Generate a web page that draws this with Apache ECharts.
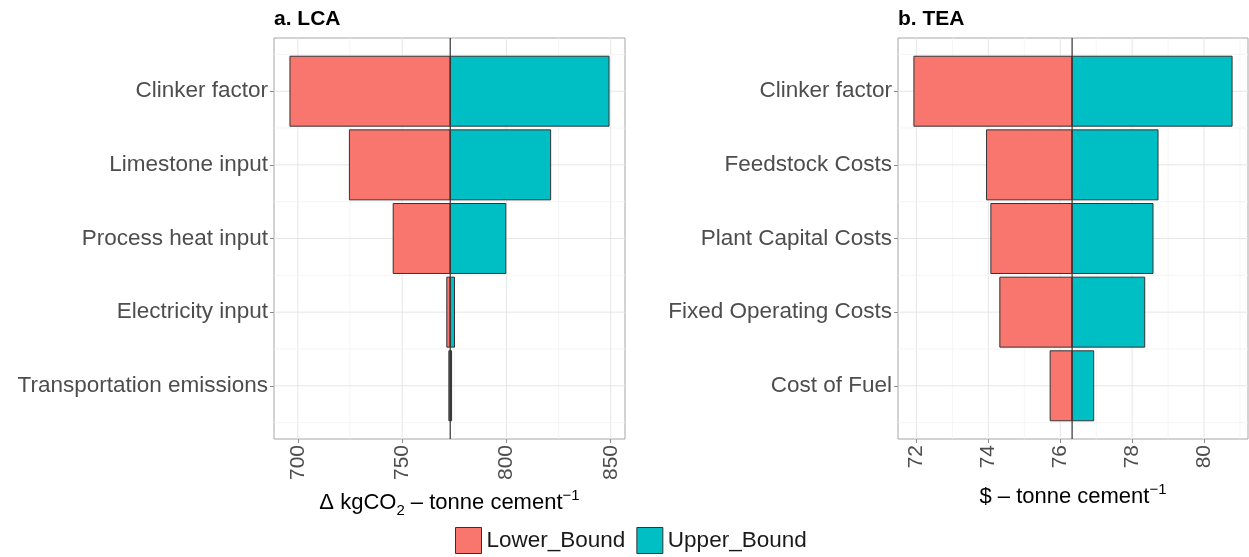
<!DOCTYPE html>
<html>
<head>
<meta charset="utf-8">
<script src="https://cdn.jsdelivr.net/npm/echarts@6/dist/echarts.min.js"></script>
<style>
  html, body { margin: 0; padding: 0; background: #ffffff; }
  #chart { width: 1249px; height: 557px; }
</style>
</head>
<body>
<div id="chart"></div>
<script>
// ---- Panel a: life-cycle assessment (kgCO2 per tonne cement) ----
const lcaCategories = ['Clinker factor', 'Limestone input', 'Process heat input', 'Electricity input', 'Transportation emissions'];
const lcaBaseline = 773.05;
const lcaLower = [696.2, 724.7, 745.7, 771.4, 772.4];
const lcaUpper = [849.2, 821.2, 799.7, 775.1, 773.7];
const lcaTicks = [700, 750, 800, 850];
const lcaMinorTicks = [725, 775, 825];

// ---- Panel b: techno-economic assessment ($ per tonne cement) ----
const teaCategories = ['Clinker factor', 'Feedstock Costs', 'Plant Capital Costs', 'Fixed Operating Costs', 'Cost of Fuel'];
const teaBaseline = 76.33;
const teaLower = [71.93, 73.95, 74.07, 74.32, 75.72];
const teaUpper = [80.78, 78.72, 78.58, 78.35, 76.93];
const teaTicks = [72, 74, 76, 78, 80];
const teaMinorTicks = [73, 75, 77, 79, 81];

// Row positions (1 = top row) and the half-step guide lines between them
const rowTicks = [1, 2, 3, 4, 5];
const rowMinorTicks = [0.5, 1.5, 2.5, 3.5, 4.5, 5.5];

const LOWER_COLOR = '#F8766D';
const UPPER_COLOR = '#00BFC4';
const BAR_WIDTH = 0.95;
const FONT = '"Liberation Sans", Arial, Helvetica, sans-serif';

// 5% padding on each side of the data range
function paddedRange(lo, hi) {
  const pad = (hi - lo) * 0.05;
  return [lo - pad, hi + pad];
}
const lcaRange = paddedRange(Math.min(...lcaLower), Math.max(...lcaUpper));
const teaRange = paddedRange(Math.min(...teaLower), Math.max(...teaUpper));
const rowRange = paddedRange(1 - BAR_WIDTH / 2, rowTicks.length + BAR_WIDTH / 2);

// One horizontal bar per row, spanning [start, end] on the value axis
function barSeries(name, color, starts, ends, gi) {
  return {
    type: 'custom',
    name: name,
    xAxisIndex: gi,
    yAxisIndex: gi,
    z: 3,
    itemStyle: { color: color, borderColor: '#333333', borderWidth: 1 },
    encode: { x: [0, 1], y: 2 },
    data: starts.map((s, i) => [s, ends[i], i + 1]),
    renderItem: function (params, api) {
      const a = api.coord([api.value(0), api.value(2)]);
      const b = api.coord([api.value(1), api.value(2)]);
      const h = Math.abs(api.size([0, BAR_WIDTH])[1]);
      return {
        type: 'rect',
        shape: { x: Math.min(a[0], b[0]), y: a[1] - h / 2, width: Math.abs(b[0] - a[0]), height: h },
        style: { fill: color, stroke: '#333333', lineWidth: 1 }
      };
    }
  };
}

// Background guide lines: kind 0 = major vertical, 1 = minor vertical,
// 2 = major horizontal, 3 = minor horizontal
function guideSeries(gi, xMajor, xMinor) {
  const data = []
    .concat(xMajor.map(v => [v, 0]))
    .concat(xMinor.map(v => [v, 1]))
    .concat(rowTicks.map(v => [v, 2]))
    .concat(rowMinorTicks.map(v => [v, 3]));
  return {
    type: 'custom',
    name: 'guides' + gi,
    xAxisIndex: gi,
    yAxisIndex: gi,
    z: 1,
    silent: true,
    encode: { x: -1, y: -1 },
    data: data,
    renderItem: function (params, api) {
      const cs = params.coordSys;
      const v = api.value(0);
      const kind = api.value(1);
      const major = kind === 0 || kind === 2;
      const style = { stroke: major ? '#E6E6E6' : '#F2F2F2', lineWidth: major ? 1 : 0.8 };
      if (kind < 2) {
        const x = api.coord([v, 1])[0];
        return { type: 'line', shape: { x1: x, y1: cs.y, x2: x, y2: cs.y + cs.height }, style: style };
      }
      const xRef = gi === 0 ? lcaRange[0] : teaRange[0];
      const y = api.coord([xRef, v])[1];
      return { type: 'line', shape: { x1: cs.x, y1: y, x2: cs.x + cs.width, y2: y }, style: style };
    }
  };
}

// Vertical reference line at the baseline value
function baselineSeries(gi, value) {
  return {
    type: 'custom',
    name: 'baseline' + gi,
    xAxisIndex: gi,
    yAxisIndex: gi,
    z: 6,
    silent: true,
    encode: { x: 0, y: -1 },
    data: [[value]],
    renderItem: function (params, api) {
      const cs = params.coordSys;
      const x = api.coord([api.value(0), 1])[0];
      return { type: 'line', shape: { x1: x, y1: cs.y, x2: x, y2: cs.y + cs.height }, style: { stroke: '#333333', lineWidth: 1.2 } };
    }
  };
}

const nameRich = {
  t: { fontSize: 22, fontFamily: FONT, color: '#000000', lineHeight: 30, verticalAlign: 'middle' },
  sub: { fontSize: 15, fontFamily: FONT, color: '#000000', lineHeight: 22, verticalAlign: 'bottom' },
  sup: { fontSize: 15, fontFamily: FONT, color: '#000000', lineHeight: 16, verticalAlign: 'top' }
};

function valueXAxis(gi, range, ticks, name) {
  return {
    type: 'value',
    gridIndex: gi,
    min: range[0],
    max: range[1],
    axisLine: { show: false },
    splitLine: { show: false },
    axisTick: { show: true, customValues: ticks, length: 4, lineStyle: { color: '#8C8C8C', width: 1 } },
    axisLabel: { customValues: ticks, rotate: 90, fontSize: 21, fontFamily: FONT, color: '#4D4D4D', margin: 6 },
    name: name,
    nameLocation: 'middle',
    nameGap: 43,
    nameTextStyle: { rich: nameRich }
  };
}

function rowYAxis(gi, cats) {
  return {
    type: 'value',
    gridIndex: gi,
    inverse: true,
    min: rowRange[0],
    max: rowRange[1],
    axisLine: { show: false },
    splitLine: { show: false },
    axisTick: { show: true, customValues: rowTicks, length: 4, lineStyle: { color: '#8C8C8C', width: 1 } },
    axisLabel: {
      customValues: rowTicks,
      formatter: v => cats[Math.round(v) - 1] || '',
      fontSize: 22.5,
      fontFamily: FONT,
      color: '#4D4D4D',
      margin: 6
    }
  };
}

const chart = echarts.init(document.getElementById('chart'), null, { renderer: 'canvas' });

chart.setOption({
  animation: false,
  backgroundColor: '#ffffff',
  title: [
    { text: 'a. LCA', left: 274, top: 9, padding: 0, textStyle: { fontSize: 21, fontWeight: 'bold', fontFamily: FONT, color: '#000000' } },
    { text: 'b. TEA', left: 898, top: 9, padding: 0, textStyle: { fontSize: 21, fontWeight: 'bold', fontFamily: FONT, color: '#000000' } }
  ],
  grid: [
    { left: 274, top: 38, width: 351, height: 401, show: true, borderColor: '#A6A6A6', borderWidth: 1, backgroundColor: '#ffffff', containLabel: false },
    { left: 898, top: 38, width: 350, height: 401, show: true, borderColor: '#A6A6A6', borderWidth: 1, backgroundColor: '#ffffff', containLabel: false }
  ],
  xAxis: [
    valueXAxis(0, lcaRange, lcaTicks, '{t|\u0394 kgCO}{sub|2}{t| \u2013 tonne cement}{sup|\u22121}'),
    valueXAxis(1, teaRange, teaTicks, '{t|$ \u2013 tonne cement}{sup|\u22121}')
  ],
  yAxis: [
    rowYAxis(0, lcaCategories),
    rowYAxis(1, teaCategories)
  ],
  legend: {
    data: [
      { name: 'Lower_Bound', itemStyle: { color: LOWER_COLOR, borderColor: '#333333', borderWidth: 1 } },
      { name: 'Upper_Bound', itemStyle: { color: UPPER_COLOR, borderColor: '#333333', borderWidth: 1 } }
    ],
    left: 455,
    top: 527,
    padding: 0,
    icon: 'rect',
    itemWidth: 26,
    itemHeight: 26,
    itemGap: 11,
    selectedMode: false,
    textStyle: { fontSize: 22.5, fontFamily: FONT, color: '#1A1A1A', padding: [0, 0, 0, 0] }
  },
  series: [
    guideSeries(0, lcaTicks, lcaMinorTicks),
    guideSeries(1, teaTicks, teaMinorTicks),
    barSeries('Lower_Bound', LOWER_COLOR, lcaLower, lcaLower.map(() => lcaBaseline), 0),
    barSeries('Upper_Bound', UPPER_COLOR, lcaUpper.map(() => lcaBaseline), lcaUpper, 0),
    barSeries('Lower_Bound', LOWER_COLOR, teaLower, teaLower.map(() => teaBaseline), 1),
    barSeries('Upper_Bound', UPPER_COLOR, teaUpper.map(() => teaBaseline), teaUpper, 1),
    baselineSeries(0, lcaBaseline),
    baselineSeries(1, teaBaseline)
  ]
});
</script>
</body>
</html>
